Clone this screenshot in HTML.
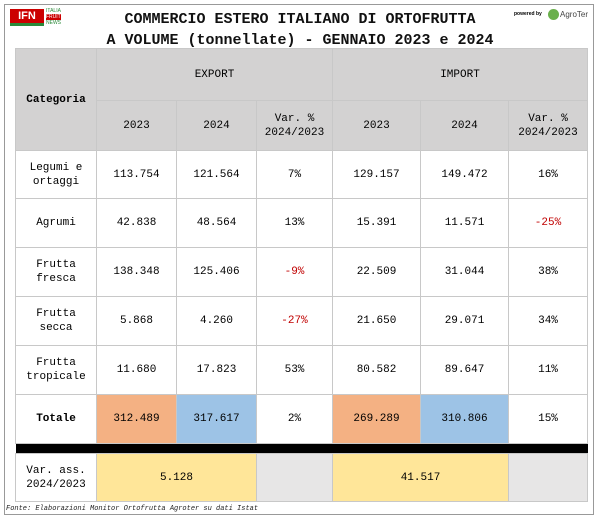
<!DOCTYPE html>
<html><head><meta charset="utf-8"><style>
body{margin:0;width:600px;height:521px;background:#fff;font-family:"Liberation Mono",monospace;position:relative;overflow:hidden}
#frame{position:absolute;left:4px;top:4px;width:590px;height:511px;border:1px solid #999;box-sizing:border-box}
.t{position:absolute;left:0;width:600px;text-align:center;font-size:15px;font-weight:bold;color:#111}
table{position:absolute;left:15px;top:48px;border-collapse:collapse;font-size:11px;color:#000}
td{border:1px solid #c8c8c8;text-align:center;padding:0;line-height:14px}
.h{background:#d3d2d2}
.neg{color:#c00000}
.o{background:#f4b183}.b{background:#9dc3e6}.y{background:#ffe699}.g{background:#e7e6e6}
.bar td{background:#000;height:9px;border:none}
#fonte{position:absolute;left:6px;top:505px;font-size:7px;font-style:italic;color:#222}
</style></head><body>
<div id="frame"></div>
<div style="position:absolute;left:10px;top:9px;width:34px;height:14px;background:#c00;color:#fff;font:bold 11px 'Liberation Sans',sans-serif;line-height:14px;text-align:center;border-bottom:3px solid #2a8a3a">IFN</div>
<div style="position:absolute;left:46px;top:8px;font:5px 'Liberation Sans',sans-serif;color:#2a8a3a;line-height:6px">ITALIA<br><span style="background:#c00;color:#fff">FRUIT</span><br>NEWS</div>
<div style="position:absolute;left:514px;top:11px;font:bold 5px 'Liberation Sans',sans-serif">powered by</div>
<div style="position:absolute;left:548px;top:9px;width:11px;height:11px;border-radius:50%;background:#6ab04c"></div>
<div style="position:absolute;left:560px;top:10px;font:8px 'Liberation Sans',sans-serif;color:#444">AgroTer</div>
<div class="t" style="top:11px">COMMERCIO ESTERO ITALIANO DI ORTOFRUTTA</div>
<div class="t" style="top:32px">A VOLUME (tonnellate) - GENNAIO 2023 e 2024</div>
<table>
<colgroup><col style="width:81px"><col style="width:80px"><col style="width:80px"><col style="width:76px"><col style="width:88px"><col style="width:88px"><col style="width:79px"></colgroup>
<tr style="height:52px"><td class="h" rowspan="2"><b>Categoria</b></td><td class="h" colspan="3">EXPORT</td><td class="h" colspan="3">IMPORT</td></tr>
<tr style="height:50px"><td class="h">2023</td><td class="h">2024</td><td class="h">Var. %<br>2024/2023</td><td class="h">2023</td><td class="h">2024</td><td class="h">Var. %<br>2024/2023</td></tr>
<tr style="height:48px"><td>Legumi e<br>ortaggi</td><td>113.754</td><td>121.564</td><td>7%</td><td>129.157</td><td>149.472</td><td>16%</td></tr>
<tr style="height:49px"><td>Agrumi</td><td>42.838</td><td>48.564</td><td>13%</td><td>15.391</td><td>11.571</td><td class="neg">-25%</td></tr>
<tr style="height:49px"><td>Frutta<br>fresca</td><td>138.348</td><td>125.406</td><td class="neg">-9%</td><td>22.509</td><td>31.044</td><td>38%</td></tr>
<tr style="height:49px"><td>Frutta<br>secca</td><td>5.868</td><td>4.260</td><td class="neg">-27%</td><td>21.650</td><td>29.071</td><td>34%</td></tr>
<tr style="height:49px"><td>Frutta<br>tropicale</td><td>11.680</td><td>17.823</td><td>53%</td><td>80.582</td><td>89.647</td><td>11%</td></tr>
<tr style="height:49px"><td><b>Totale</b></td><td class="o">312.489</td><td class="b">317.617</td><td>2%</td><td class="o">269.289</td><td class="b">310.806</td><td>15%</td></tr>
<tr class="bar"><td colspan="7"></td></tr>
<tr style="height:48px"><td>Var. ass.<br>2024/2023</td><td class="y" colspan="2">5.128</td><td class="g"></td><td class="y" colspan="2">41.517</td><td class="g"></td></tr>
</table>
<div id="fonte">Fonte: Elaborazioni Monitor Ortofrutta Agroter su dati Istat</div>
</body></html>
